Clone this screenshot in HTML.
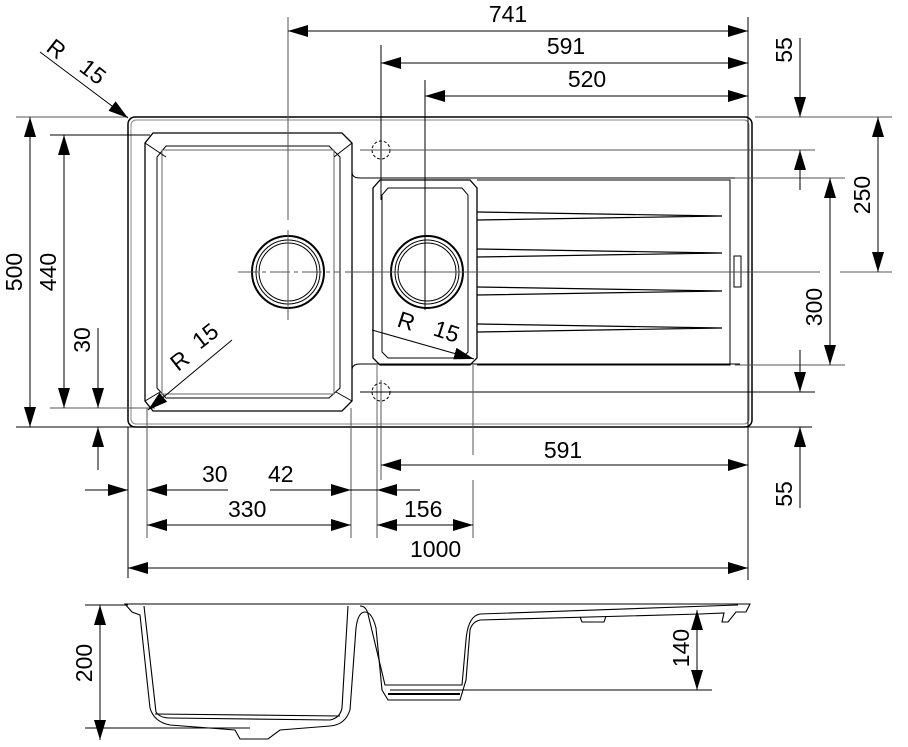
<!DOCTYPE html>
<html><head><meta charset="utf-8"><style>html,body{margin:0;padding:0;background:#fff}svg{display:block}text{font-family:"Liberation Sans",sans-serif;font-size:23px;fill:#000}</style></head>
<body>
<svg width="908" height="747" viewBox="0 0 908 747" xmlns="http://www.w3.org/2000/svg">
<defs>
<marker id="a" markerUnits="userSpaceOnUse" markerWidth="20" markerHeight="14" refX="20" refY="6" orient="auto-start-reverse"><path d="M0,0 L20,6 L0,12 z" fill="#000"/></marker>
</defs>
<g fill="none" stroke="#000" stroke-width="1">
<rect x="128" y="117" width="624" height="310" rx="7" stroke-width="1.5"/>
<rect x="131" y="120" width="618" height="304" rx="5" stroke="#888"/>
<path d="M153,133 H342 L352,143 V401 L342,411 H153 L145,401 V143 Z" stroke-width="1.3"/>
<path d="M166,146 H329 L340,157 V388 L329,398 H166 L157,388 V157 Z"/>
<rect x="162" y="150" width="172" height="244" stroke="#666"/>
<line x1="145" y1="143" x2="166" y2="157"/><line x1="352" y1="143" x2="334" y2="157"/>
<line x1="145" y1="401" x2="160" y2="392"/><line x1="352" y1="401" x2="336" y2="392"/>
<path d="M352,172 Q352,178 360,178 H740"/><path d="M352,370 Q352,364 360,364 H740"/>
<path d="M380,180 H470 L477,188 V358 L470,365 H380 L373,358 V188 Z" stroke-width="1.3"/>
<path d="M388,188 H462 L468,195 V352 L462,358 H388 L382,352 V195 Z"/>
<line x1="377" y1="365" x2="377" y2="427" stroke="#666"/>
<path d="M477,180 H730 V365 H477"/>
<g stroke-width="1.2">
<path d="M477,212 L722,216 L477,220"/>
<path d="M477,249 L722,253 L477,257"/>
<path d="M477,287 L722,291 L477,295"/>
<path d="M477,324 L722,328 L477,332"/>
</g>
<rect x="734" y="256" width="7" height="31"/>
<circle cx="288" cy="272" r="36" stroke-width="2"/><circle cx="288" cy="272" r="32"/><circle cx="288" cy="272" r="29"/>
<circle cx="427" cy="272" r="36" stroke-width="2"/><circle cx="427" cy="272" r="32"/><circle cx="427" cy="272" r="29"/>
<circle cx="381" cy="150" r="9" stroke-dasharray="3,2"/><circle cx="381" cy="392" r="9" stroke-dasharray="3,2"/>
</g>
<g fill="none" stroke="#555" stroke-width="1">
<line x1="288" y1="17" x2="288" y2="220"/><line x1="288" y1="230" x2="288" y2="320"/>
<line x1="238" y1="272" x2="340" y2="272" stroke-dasharray="20,4,4,4"/>
<line x1="345" y1="272" x2="820" y2="272"/><line x1="840" y1="272" x2="892" y2="272"/>
<line x1="381" y1="45" x2="381" y2="200" stroke="#000"/><line x1="381" y1="380" x2="381" y2="480"/>
<line x1="425" y1="80" x2="425" y2="310" stroke="#000"/>
<line x1="748" y1="17" x2="748" y2="580" stroke="#000"/>
<line x1="360" y1="150" x2="815" y2="150"/>
<line x1="360" y1="392" x2="815" y2="392" stroke="#000"/>
<line x1="755" y1="117" x2="892" y2="117"/>
<line x1="735" y1="178" x2="845" y2="178"/><line x1="735" y1="365" x2="845" y2="365"/>
<line x1="16" y1="117" x2="128" y2="117"/>
<line x1="50" y1="135" x2="150" y2="135" stroke="#000"/>
<line x1="50" y1="408" x2="155" y2="408"/>
<line x1="16" y1="427" x2="812" y2="427" stroke="#000"/>
<line x1="128" y1="427" x2="128" y2="578" stroke="#000"/>
<line x1="147" y1="408" x2="147" y2="538"/>
<line x1="351" y1="408" x2="351" y2="538"/>
<line x1="377" y1="427" x2="377" y2="538"/>
<line x1="473" y1="365" x2="473" y2="455"/><line x1="473" y1="480" x2="473" y2="538"/>
</g>
<g stroke="#000" stroke-width="1" fill="none">
<line x1="288" y1="31" x2="748" y2="31" marker-start="url(#a)" marker-end="url(#a)"/>
<line x1="381" y1="63" x2="748" y2="63" marker-start="url(#a)" marker-end="url(#a)"/>
<line x1="425" y1="96" x2="748" y2="96" marker-start="url(#a)" marker-end="url(#a)"/>
<line x1="800" y1="38" x2="800" y2="117" marker-end="url(#a)"/>
<line x1="800" y1="190" x2="800" y2="150" marker-end="url(#a)"/>
<line x1="878" y1="117" x2="878" y2="272" marker-start="url(#a)" marker-end="url(#a)"/>
<line x1="830" y1="178" x2="830" y2="365" marker-start="url(#a)" marker-end="url(#a)"/>
<line x1="800" y1="350" x2="800" y2="392" marker-end="url(#a)"/>
<line x1="800" y1="508" x2="800" y2="427" marker-end="url(#a)"/>
<line x1="30" y1="117" x2="30" y2="427" marker-start="url(#a)" marker-end="url(#a)"/>
<line x1="64" y1="135" x2="64" y2="408" marker-start="url(#a)" marker-end="url(#a)"/>
<line x1="98" y1="328" x2="98" y2="408" marker-end="url(#a)"/>
<line x1="98" y1="470" x2="98" y2="427" marker-end="url(#a)"/>
<line x1="85" y1="490" x2="128" y2="490" marker-end="url(#a)"/>
<line x1="228" y1="490" x2="147" y2="490" marker-end="url(#a)"/>
<line x1="270" y1="490" x2="351" y2="490" marker-end="url(#a)"/>
<line x1="420" y1="490" x2="377" y2="490" marker-end="url(#a)"/>
<line x1="351" y1="490" x2="377" y2="490"/>
<line x1="147" y1="525" x2="351" y2="525" marker-start="url(#a)" marker-end="url(#a)"/>
<line x1="377" y1="525" x2="473" y2="525" marker-start="url(#a)" marker-end="url(#a)"/>
<line x1="381" y1="465" x2="748" y2="465" marker-start="url(#a)" marker-end="url(#a)"/>
<line x1="128" y1="568" x2="748" y2="568" marker-start="url(#a)" marker-end="url(#a)"/>
<line x1="40" y1="52" x2="128" y2="118" marker-end="url(#a)"/>
<line x1="232" y1="340" x2="148" y2="410" marker-end="url(#a)"/>
<line x1="372" y1="330" x2="474" y2="359" marker-end="url(#a)"/>
<line x1="100" y1="605" x2="100" y2="740" marker-start="url(#a)" marker-end="url(#a)"/>
<line x1="697" y1="610" x2="697" y2="690" marker-start="url(#a)" marker-end="url(#a)"/>
<line x1="85" y1="605" x2="128" y2="605"/><line x1="85" y1="728" x2="250" y2="728"/>
<line x1="390" y1="690" x2="712" y2="690"/>
</g>
<g fill="none" stroke="#000" stroke-width="1.1">
<path d="M125,604 H750 L746,612 L736,612 L728,622 H722 L724,613 L700,614 L480,620 Q472,622 470,630 L466,680 L460,700 H388 L382,690 L376,628 Q372,612 365,612 Q358,612 356,628 L350,710 Q345,725 330,726 L280,730 L268,739 H240 L235,730 L170,725 Q154,722 150,708 L140,615 L132,612 Z"/>
<path d="M144,606 L156,712 Q160,718 170,718 L330,720 Q340,718 342,708 L348,606"/>
<path d="M360,606 Q366,606 368,614 L385,685 H462 L466,640 Q468,616 480,614 L738,605"/>
<path d="M388,694 H460" stroke-width="2"/>
<path d="M580,617 L582,622 H604 L606,616"/>
<path d="M155,714 L340,716"/>
</g>
<text x="508" y="22" text-anchor="middle">741</text>
<text x="566" y="54" text-anchor="middle">591</text>
<text x="587" y="87" text-anchor="middle">520</text>
<text x="563" y="458" text-anchor="middle">591</text>
<text x="202" y="482">30</text>
<text x="268" y="482">42</text>
<text x="228" y="517">330</text>
<text x="404" y="517">156</text>
<text x="410" y="557">1000</text>
<text transform="translate(22,272) rotate(-90)" text-anchor="middle">500</text>
<text transform="translate(56,272) rotate(-90)" text-anchor="middle">440</text>
<text transform="translate(90,340) rotate(-90)" text-anchor="middle">30</text>
<text transform="translate(792,50) rotate(-90)" text-anchor="middle">55</text>
<text transform="translate(792,494) rotate(-90)" text-anchor="middle">55</text>
<text transform="translate(870,195) rotate(-90)" text-anchor="middle">250</text>
<text transform="translate(822,307) rotate(-90)" text-anchor="middle">300</text>
<text transform="translate(92,663) rotate(-90)" text-anchor="middle">200</text>
<text transform="translate(689,648) rotate(-90)" text-anchor="middle">140</text>
<text transform="translate(45,50) rotate(38)">R</text>
<text transform="translate(78,70) rotate(38)">15</text>
<text transform="translate(178,372) rotate(-38)">R</text>
<text transform="translate(200,350) rotate(-38)">15</text>
<text transform="translate(396,326) rotate(18)">R</text>
<text transform="translate(432,335) rotate(18)">15</text>
</svg>
</body></html>
